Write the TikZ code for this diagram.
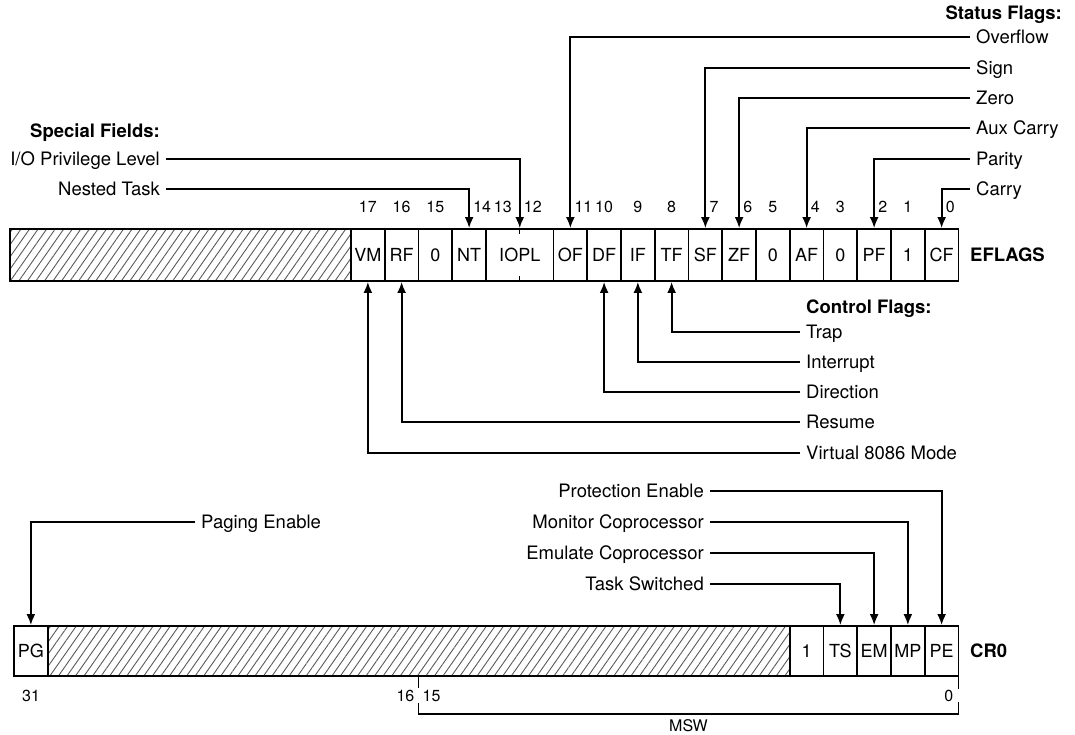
\documentclass[tikz,border=0pt]{standalone}
\usepackage{fontspec}
\setmainfont{TeX Gyre Heros}
\usetikzlibrary{positioning,calc,arrows.meta,patterns.meta}
\tikzset{>={Latex[length=11pt,width=9pt]}}
\tikzset{
  cell/.style={draw, line width=1.9pt, minimum width=\W*1pt, minimum height=52pt,
    inner sep=0pt, font=\fontsize{18}{21}\selectfont},
  bitnum/.style={inner sep=2pt, font=\fontsize{16}{19}\selectfont},
  flag/.style={inner xsep=6pt, inner ysep=0pt, text height=12.5pt, text depth=0pt,
    font=\fontsize{18.5}{21}\selectfont},
  sect/.style={flag, font=\fontsize{18.5}{21}\selectfont\bfseries},
  reg/.style={inner xsep=6pt, font=\fontsize{18.5}{21}\selectfont\bfseries},
  conn/.style={->, line width=1.8pt},
  hatch/.style={pattern={Lines[angle=55,distance=7pt,line width=0.9pt]}, pattern color=black!65}
}

\begin{document}
\begin{tikzpicture}[x=1pt, y=-1pt, line join=miter]
  \def\W{33.75}   % one bit cell
  \def\R{958.5}   % right edge of both registers
  \useasboundingbox (0,0) rectangle (1075,735);

  % EFLAGS register
  \fill[hatch] (10,229) rectangle ({\R-18*\W},281);
  \draw[line width=1.9pt] (10,229) rectangle ({\R-18*\W},281);
  \foreach \b/\t in {0/CF,1/1,2/PF,3/0,4/AF,5/0,6/ZF,7/SF,8/TF,9/IF,10/DF,11/OF,14/NT,15/0,16/RF,17/VM}
    \node[cell] (e\b) at ({\R-(\b+0.5)*\W},255) {\t};
  \node[cell, minimum width=2*\W*1pt] (e12) at ({\R-13*\W},255) {IOPL};
  \draw[line width=1.4pt] (e12.north) -- ++(0,6) (e12.south) -- ++(0,-6);
  \node[reg, anchor=west] (eflags) at (964,255) {EFLAGS};

  % bit numbers
  \foreach \b in {1,3,5,8,9,10,15,16,17}
    \node[bitnum] (n\b) at ({\R-(\b+0.5)*\W},207) {\b};
  \foreach \b in {0,2,4,6,7,11,14}
    \node[bitnum, anchor=west] (n\b) at ({\R-(\b+0.5)*\W+2},207) {\b};
  \node[bitnum] (n13) at ({\R-13.5*\W},207) {13};
  \node[bitnum, anchor=west] (n12) at ({\R-13*\W+2},207) {12};

  % status flags
  \node[sect, anchor=east] (sfh) at (1068,13) {Status Flags:};
  \foreach \n/\t/\y/\b in {OF/Overflow/37/11, SF/Sign/68/7, ZF/Zero/98/6,
      AF/Aux Carry/128/4, PF/Parity/159/2, CF/Carry/189/0}
  {
    \node[flag, anchor=west] (l\n) at (970,\y) {\t};
    \draw[conn] (l\n.west) -| (e\b.north);
  }

  % control flags
  \node[sect, anchor=west] (cfh) at (800,307) {Control Flags:};
  \foreach \n/\t/\y/\b in {TF/Trap/332/8, IF/Interrupt/362/9, DF/Direction/392/10,
      RF/Resume/422/16, VM/Virtual 8086 Mode/453/17}
  {
    \node[flag, anchor=west] (l\n) at (800,\y) {\t};
    \draw[conn] (l\n.west) -| (e\b.south);
  }

  % special fields
  \node[sect, anchor=east] (sph) at (166,131) {Special Fields:};
  \node[flag, anchor=east] (lIOPL) at (166,159) {I/O Privilege Level};
  \draw[conn] (lIOPL.east) -| (e12.north);
  \node[flag, anchor=east] (lNT) at (166,189) {Nested Task};
  \draw[conn] (lNT.east) -| (e14.north);

  % CR0 register
  \fill[hatch] (47.75,626) rectangle ({\R-5*\W},676);
  \draw[line width=1.9pt] (14,626) rectangle ({\R-5*\W},676);
  \node[cell, minimum height=50pt] (c31) at (30.875,651) {PG};
  \foreach \b/\t in {0/PE,1/MP,2/EM,3/TS,4/1}
    \node[cell, minimum height=50pt] (c\b) at ({\R-(\b+0.5)*\W},651) {\t};
  \node[reg, anchor=west] (cr0) at (964,651) {CR0};

  \foreach \n/\t/\y/\b in {PE/Protection Enable/491/0, MP/Monitor Coprocessor/522/1,
      EM/Emulate Coprocessor/553/2, TS/Task Switched/584/3}
  {
    \node[flag, anchor=east] (l\n) at (710,\y) {\t};
    \draw[conn] (l\n.east) -| (c\b.north);
  }
  \node[flag, anchor=west] (lPG) at (195,522) {Paging Enable};
  \draw[conn] (lPG.west) -| (c31.north);

  % bit numbers and MSW bracket
  \node[bitnum] (b31) at (31,696) {31};
  \node[bitnum, anchor=east] (b16) at ({\R-16*\W-2},696) {16};
  \node[bitnum, anchor=west] (b15) at ({\R-16*\W+2},696) {15};
  \node[bitnum, anchor=east] (b0) at ({\R-3},696) {0};
  \coordinate (m16) at ({\R-16*\W},676);
  \coordinate (m0) at (\R,676);
  \draw[line width=1.8pt] (m16) -- ++(0,12) (m0) -- ++(0,13);
  \draw[line width=1.8pt] ($(m16)+(0,27)$) -- ++(0,11) -| ($(m0)+(0,26)$);
  \node[bitnum, anchor=north] (msw) at ($(m16)!0.5!(m0)+(0,41)$) {MSW};
\end{tikzpicture}
\end{document}
